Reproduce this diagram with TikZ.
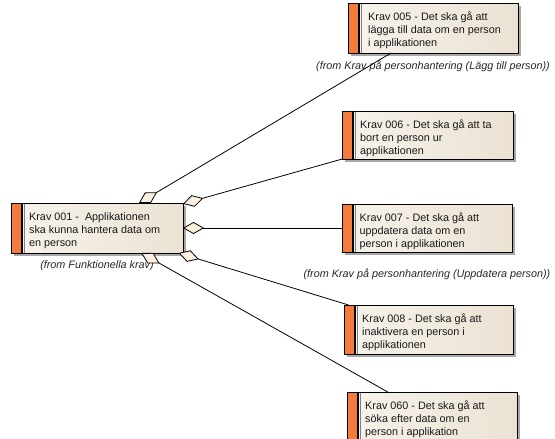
\documentclass[tikz,border=0pt]{standalone}
\usepackage{fontspec}
\setmainfont{Liberation Sans}
\usetikzlibrary{arrows.meta}

\definecolor{reqorange}{HTML}{F47B3C}
\definecolor{bodylight}{HTML}{F7F3EC}
\definecolor{bodydark}{HTML}{EBE2D3}
\definecolor{shadowgray}{HTML}{A8A8A8}
\definecolor{diamondfill}{HTML}{FCF1E0}

\tikzset{
  frame/.style={draw=black, line width=0.8pt, outer sep=0pt, inner sep=0pt,
    left color=bodylight, right color=bodydark, anchor=north west},
  reqtext/.style={anchor=north west, align=left, inner sep=0pt,
    font=\fontsize{10.8}{13.3}\selectfont, text=black!90},
  fromtext/.style={font=\fontsize{10.8}{13}\selectfont\itshape, inner sep=0pt, text=black!85},
  agg/.style={line width=0.8pt,
    {Diamond[length=21pt,width=12pt,fill=diamondfill,line width=0.8pt]}-},
}

% requirement element: name, left, top, width, height, text inset, text
% (the strut fixes the first line's height, so its baseline lies 17pt below the top)
\newcommand\kravbox[7]{%
  \fill[shadowgray] (#2+3,#3+3) rectangle (#2+#4+3,#3+#5+3);
  \node[frame, minimum width=#4pt, minimum height=#5pt] (#1) at (#2,#3) {};
  \fill[reqorange] (#1.north west) rectangle ([xshift=10pt]#1.south west);
  \draw[line width=1.5pt] ([xshift=10.75pt]#1.north west) -- ([xshift=10.75pt]#1.south west);
  \draw[gray, line width=0.7pt] ([xshift=13pt]#1.north west) -- ([xshift=13pt]#1.south west);
  \draw[line width=0.8pt] (#1.north west) rectangle (#1.south east);
  \node[reqtext] (#1-text) at ([xshift=#6pt,yshift=-6pt]#1.north west) {\rule{0pt}{11pt}#7};
}

\begin{document}
\begin{tikzpicture}[x=1pt,y=-1pt]
\useasboundingbox (0,0) rectangle (555,439);

\kravbox{main}{11}{203}{172}{50}{18}{Krav 001 -\ \ Applikationen\\ska kunna hantera data om\\en person}
\kravbox{k005}{348}{3}{170}{50}{20}{Krav 005 - Det ska gå att\\lägga till data om en person\\i applikationen}
\kravbox{k006}{342}{111}{171}{48}{18}{Krav 006 - Det ska gå att ta\\bort en person ur\\applikationen}
\kravbox{k007}{342}{204}{170}{48}{17.5}{Krav 007 - Det ska gå att\\uppdatera data om en\\person i applikationen}
\kravbox{k008}{344}{305}{169}{49}{18}{Krav 008 - Det ska gå att\\inaktivera en person i\\applikationen}
\kravbox{k060}{347}{392}{170}{50}{18}{Krav 060 - Det ska gå att\\söka efter data om en\\person i applikation}

\node[fromtext] (main-from) at (97,266) {(from Funktionella krav)};
\node[fromtext] (k005-from) at (433,66) {(from Krav på personhantering (Lägg till person))};
\node[fromtext] (k007-from) at (427,274) {(from Krav på personhantering (Uppdatera person))};

\draw[agg] (main) -- (k005);
\draw[agg] (main) -- (k006);
\draw[agg] (main) -- (k007);
\draw[agg] (main) -- (k008);
\draw[agg] (main) -- (k060);
\end{tikzpicture}
\end{document}
